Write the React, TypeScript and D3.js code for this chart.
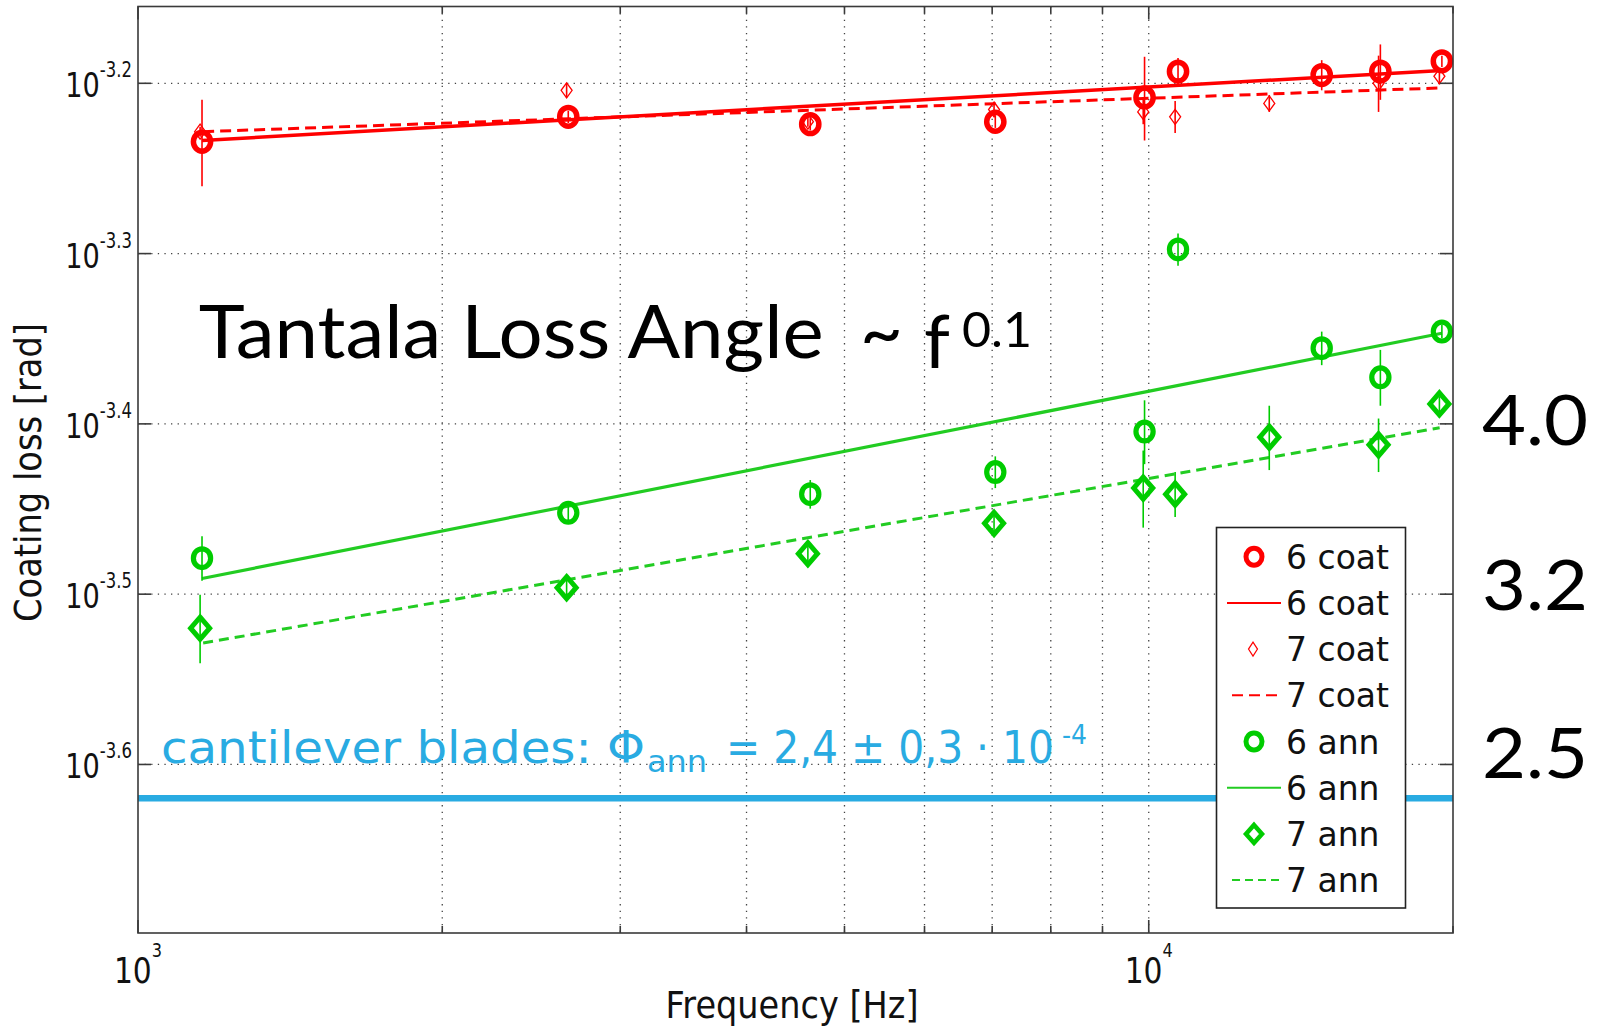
import * as d3 from "d3";

// frequencies [Hz]
const FREQ6 = [1157, 2665, 4625, 7050, 9905, 10690, 14830, 16950, 19500];
const FREQ7 = [1152, 2655, 4600, 7030, 9875, 10620, 13160, 16880, 19390];

// loss values, in units of 1e-4 rad
const COAT6 = [5.83, 6.03, 5.97, 5.99, 6.19, 6.41, 6.38, 6.41, 6.5];
const COAT6_ERR = [0.34, 0.05, 0.05, 0.05, 0.35, 0.12, 0.13, 0.24, 0.05];
const COAT7 = [5.91, 6.25, 5.99, 6.09, 6.07, 6.03, 6.14, 6.31, 6.37];
const COAT7_ERR = [0.04, 0.06, 0.04, 0.06, 0.1, 0.13, 0.07, 0.24, 0.07];
const ANN6 = [3.32, 3.53, 3.62, 3.73, 3.94, 5.04, 4.41, 4.24, 4.51];
const ANN6_ERR = [0.1, 0.04, 0.07, 0.08, 0.17, 0.11, 0.1, 0.16, 0.04];
const ANN7 = [3.02, 3.19, 3.34, 3.48, 3.65, 3.62, 3.91, 3.87, 4.09];
const ANN7_ERR = [0.14, 0.04, 0.06, 0.04, 0.19, 0.11, 0.17, 0.14, 0.04];

// power-law fit end points
const FIT_FREQ6 = [1157, 19500];
const FIT_FREQ7 = [1160, 19400];
const FIT_COAT6 = [5.84, 6.42];
const FIT_COAT7 = [5.91, 6.27];
const FIT_ANN6 = [3.23, 4.5];
const FIT_ANN7 = [2.96, 3.96];

const BLADE_LOSS = 2.4; // 1e-4 rad
const Y_TICK_EXP = ["-3.6", "-3.5", "-3.4", "-3.3", "-3.2"];
const X_TICK_EXP = ["3", "4"];
const LEGEND_LABELS = ["6 coat", "6 coat", "7 coat", "7 coat", "6 ann", "6 ann", "7 ann", "7 ann"];
const SIDE_LABELS = ["4.0", "3.2", "2.5"];
const SIDE_AT = [4.0, 3.2, 2.55];

const RED = "#ff0000";
const GREEN = "#00cc00";
const GREEN_LINE = "#22cc22";
const BLUE = "#29abe2";
const SANS = "DejaVu Sans";

const diamond = (cx, cy, w, h) =>
  `M${cx},${cy - h}L${cx + w},${cy}L${cx},${cy + h}L${cx - w},${cy}Z`;

export default function App() {
  const L = 138, R = 1453, T = 6.5, B = 933;
  const x = d3.scaleLog().domain([1000, 20000]).range([L, R]);
  const y = d3.scaleLog().domain([2e-4, 7e-4]).range([B, T]);
  const u = (v) => v * 1e-4;
  const line = d3
    .line()
    .x((d) => x(d[0]))
    .y((d) => y(u(d[1])));

  const xTicks = x.ticks();
  const minorX = xTicks.filter((t) => t > 1000 && t < 20000);
  const yTicks = Y_TICK_EXP.map((e) => Math.pow(10, +e));

  const errBars = (freq, vals, errs, color) =>
    freq.map((f, i) => (
      <line
        key={i}
        x1={x(f)}
        x2={x(f)}
        y1={y(u(vals[i] - errs[i]))}
        y2={y(u(vals[i] + errs[i]))}
        stroke={color}
        strokeWidth={1.6}
      />
    ));

  const legY = (i) => 556.7 + i * 46.2;

  return (
    <svg
      width={1606}
      height={1029}
      style={{ position: "absolute", left: 0, top: 0, background: "#fff" }}
    >
      <rect x={0} y={0} width={1606} height={1029} fill="#fff" />
      {/* grid */}
      <g stroke="#444" strokeWidth={1.3} strokeDasharray="1.3 5.3">
        {minorX.map((t) => (
          <line key={t} x1={x(t)} x2={x(t)} y1={T} y2={B} />
        ))}
        {yTicks.map((t, i) => (
          <line key={i} x1={L} x2={R} y1={y(t)} y2={y(t)} />
        ))}
      </g>

      {/* blade loss reference */}
      <line
        x1={L}
        x2={R}
        y1={y(u(BLADE_LOSS))}
        y2={y(u(BLADE_LOSS))}
        stroke={BLUE}
        strokeWidth={6.5}
      />

      {/* fits */}
      <path d={line(FIT_FREQ6.map((f, i) => [f, FIT_COAT6[i]]))} stroke={RED} strokeWidth={3.5} fill="none" />
      <path d={line(FIT_FREQ7.map((f, i) => [f, FIT_COAT7[i]]))} stroke={RED} strokeWidth={3} strokeDasharray="11 6" fill="none" />
      <path d={line(FIT_FREQ6.map((f, i) => [f, FIT_ANN6[i]]))} stroke={GREEN_LINE} strokeWidth={3.2} fill="none" />
      <path d={line(FIT_FREQ7.map((f, i) => [f, FIT_ANN7[i]]))} stroke={GREEN_LINE} strokeWidth={3} strokeDasharray="10 6" fill="none" />

      {/* error bars */}
      {errBars(FREQ6, COAT6, COAT6_ERR, RED)}
      {errBars(FREQ7, COAT7, COAT7_ERR, RED)}
      {errBars(FREQ6, ANN6, ANN6_ERR, GREEN)}
      {errBars(FREQ7, ANN7, ANN7_ERR, GREEN)}

      {/* markers */}
      {FREQ6.map((f, i) => (
        <ellipse key={"c6" + i} cx={x(f)} cy={y(u(COAT6[i]))} rx={8.6} ry={9.4} fill="none" stroke={RED} strokeWidth={5.5} />
      ))}
      {FREQ7.map((f, i) => (
        <path key={"c7" + i} d={diamond(x(f), y(u(COAT7[i])), 5.5, 7.5)} fill="none" stroke={RED} strokeWidth={1.3} />
      ))}
      {FREQ6.map((f, i) => (
        <ellipse key={"a6" + i} cx={x(f)} cy={y(u(ANN6[i]))} rx={8.6} ry={9.4} fill="none" stroke={GREEN} strokeWidth={5.2} />
      ))}
      {FREQ7.map((f, i) => (
        <path key={"a7" + i} d={diamond(x(f), y(u(ANN7[i])), 9.5, 11)} fill="none" stroke={GREEN} strokeWidth={5} />
      ))}

      {/* axes box and ticks */}
      <g stroke="#3a3a3a" strokeWidth={1.6}>
        <rect x={L} y={T} width={R - L} height={B - T} fill="none" />
        {xTicks.map((t) => {
          const len = t === 1000 || t === 10000 ? 13 : 7;
          return (
            <g key={t}>
              <line x1={x(t)} x2={x(t)} y1={B} y2={B - len} />
              <line x1={x(t)} x2={x(t)} y1={T} y2={T + len} />
            </g>
          );
        })}
        {yTicks.map((t, i) => (
          <g key={i}>
            <line x1={L} x2={L + 13} y1={y(t)} y2={y(t)} />
            <line x1={R} x2={R - 13} y1={y(t)} y2={y(t)} />
          </g>
        ))}
      </g>

      {/* tick labels */}
      {yTicks.map((t, i) => (
        <text
          key={i}
          transform={`translate(132,${y(t) + 14}) scale(0.8,1)`}
          textAnchor="end"
          fontFamily={SANS}
          fill="#111"
        >
          <tspan fontSize={34}>10</tspan>
          <tspan fontSize={20.6} dy={-20}>{Y_TICK_EXP[i]}</tspan>
        </text>
      ))}
      {X_TICK_EXP.map((e) => (
        <text
          key={e}
          transform={`translate(${x(Math.pow(10, +e))},983) scale(0.85,1)`}
          textAnchor="middle"
          fontFamily={SANS}
          fill="#111"
        >
          <tspan fontSize={35}>10</tspan>
          <tspan fontSize={19} dy={-26}>{e}</tspan>
        </text>
      ))}

      {/* axis labels */}
      <text x={792} y={1018} textAnchor="middle" fontFamily={SANS} fontSize={37} textLength={253} lengthAdjust="spacingAndGlyphs" fill="#111">
        Frequency [Hz]
      </text>
      <text
        transform="translate(41,472.5) rotate(-90)"
        textAnchor="middle"
        fontFamily={SANS}
        fontSize={38}
        textLength={299}
        lengthAdjust="spacingAndGlyphs"
        fill="#111"
      >
        Coating loss [rad]
      </text>

      {/* blade annotation */}
      <text fill={BLUE} fontFamily={SANS} x={161} y={763} fontSize={44}>
        <tspan textLength={484} lengthAdjust="spacingAndGlyphs">cantilever blades: Φ</tspan>
        <tspan x={647} dy={9} fontSize={30} textLength={60} lengthAdjust="spacingAndGlyphs">ann</tspan>
        <tspan x={726} dy={-9} textLength={328} lengthAdjust="spacingAndGlyphs">= 2,4 ± 0,3 · 10</tspan>
        <tspan x={1062} dy={-19} fontSize={27} textLength={25} lengthAdjust="spacingAndGlyphs">-4</tspan>
      </text>

      {/* title */}
      <g fontFamily="Lato" fill="#000">
        <text x={198.7} y={358} fontSize={74} textLength={625} lengthAdjust="spacingAndGlyphs">
          Tantala Loss Angle
        </text>
        <text x={860} y={358} fontSize={74}>~</text>
        <text x={924} y={368} fontSize={74}>f</text>
        <text x={962} y={346.7} fontSize={49} textLength={70} lengthAdjust="spacingAndGlyphs">
          0.1
        </text>
      </g>

      {/* side labels */}
      {SIDE_LABELS.map((s, i) => (
        <text
          key={s}
          x={1482}
          y={y(u(SIDE_AT[i])) + 25}
          fontFamily="Lato"
          fontSize={70}
          textLength={106}
          lengthAdjust="spacingAndGlyphs"
          fill="#000"
        >
          {s}
        </text>
      ))}

      {/* legend */}
      <g>
        <rect x={1216.5} y={527.5} width={189} height={380.5} fill="#fff" stroke="#222" strokeWidth={1.6} />
        <ellipse cx={1254} cy={legY(0)} rx={8} ry={8.5} fill="none" stroke={RED} strokeWidth={5} />
        <line x1={1227} x2={1281} y1={legY(1)} y2={legY(1)} stroke={RED} strokeWidth={2} />
        <path d={diamond(1253, legY(2), 4.5, 7)} fill="none" stroke={RED} strokeWidth={1.2} />
        <line x1={1232} x2={1281} y1={legY(3)} y2={legY(3)} stroke={RED} strokeWidth={2} strokeDasharray="11 6" />
        <ellipse cx={1254} cy={legY(4)} rx={8} ry={8.5} fill="none" stroke={GREEN} strokeWidth={5} />
        <line x1={1227} x2={1281} y1={legY(5)} y2={legY(5)} stroke={GREEN_LINE} strokeWidth={2} />
        <path d={diamond(1254, legY(6), 8, 9)} fill="none" stroke={GREEN} strokeWidth={4.5} />
        <line x1={1232} x2={1281} y1={legY(7)} y2={legY(7)} stroke={GREEN_LINE} strokeWidth={2} strokeDasharray="8 5" />
        {LEGEND_LABELS.map((s, i) => (
          <text key={i} x={1286} y={legY(i) + 12} fontFamily={SANS} fontSize={33} fill="#111">
            {s}
          </text>
        ))}
      </g>
    </svg>
  );
}
